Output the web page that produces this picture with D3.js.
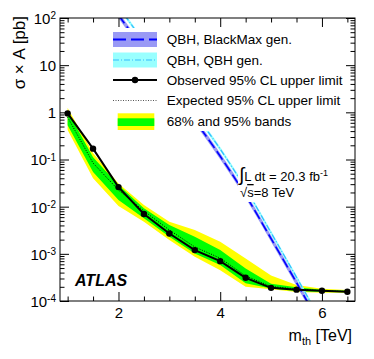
<!DOCTYPE html>
<html>
<head>
<meta charset="utf-8">
<script src="https://cdn.jsdelivr.net/npm/d3@7"></script>
<style>
  body { margin: 0; background: #fff; }
  text { font-family: "Liberation Sans", Arial, sans-serif; fill: #000; }
</style>
</head>
<body>
<div id="chart"></div>
<script>
// threshold masses (TeV) for the limit points
const massPoints = [1, 1.5, 2, 2.5, 3, 3.5, 4, 4.5, 5, 5.5, 6, 6.5];
const observed = [0.95, 0.17, 0.026, 0.0070, 0.0027, 0.0012, 0.00070, 0.00031, 0.00019, 0.000174, 0.000165, 0.000157];
const expected = [0.79, 0.084, 0.0225, 0.0081, 0.0032, 0.0014, 0.00081, 0.00034, 0.000203, 0.00018, 0.000165, 0.000159];
const band95High = [1.23, 0.137, 0.031, 0.0108, 0.0048, 0.0032, 0.0018, 0.0008, 0.000347, 0.000218, 0.000182, 0.000171];
const band68High = [1.06, 0.112, 0.0287, 0.0093, 0.0041, 0.0023, 0.0012, 0.00049, 0.000233, 0.000195, 0.000173, 0.000165];
const band68Low = [0.535, 0.054, 0.0138, 0.0057, 0.0023, 0.00102, 0.00058, 0.000237, 0.000184, 0.000163, 0.000155, 0.000154];
const band95Low = [0.42, 0.040, 0.0103, 0.0048, 0.00196, 0.00087, 0.00045, 0.0002, 0.000177, 0.000155, 0.00015, 0.00015];

// theory predictions
const theoryMass = [2, 2.5, 3, 3.5, 4, 4.5, 5, 5.5, 6];
const blackMax = [115, 21, 3.9, 0.68, 0.117, 0.0174, 0.0021, 2.45e-4, 2.75e-5];
const blackMaxHigh = [133, 24.4, 4.5, 0.79, 0.136, 0.0202, 0.00244, 2.84e-4, 3.2e-5];
const blackMaxLow = [99, 18.1, 3.36, 0.586, 0.101, 0.015, 0.00181, 2.11e-4, 2.37e-5];
const qbhGen = [174, 31, 5.5, 0.95, 0.166, 0.024, 0.0028, 3.2e-4, 3.5e-5];
const qbhHigh = [191, 34, 6.05, 1.05, 0.183, 0.0264, 0.0031, 3.5e-4, 3.85e-5];
const qbhLow = [158, 28.2, 5.0, 0.86, 0.151, 0.0218, 0.00255, 2.9e-4, 3.2e-5];

const xMajorTicks = [2, 4, 6];
const xMinorTicks = [1, 1.5, 2.5, 3, 3.5, 4.5, 5, 5.5, 6.5];
const yMajorTicks = [1e-4, 1e-3, 1e-2, 1e-1, 1, 10, 100];
const yTickLabels = [['10', '-4'], ['10', '-3'], ['10', '-2'], ['10', '-1'], ['1', ''], ['10', ''], ['10', '2']];
const legendLabels = ['QBH, BlackMax gen.', 'QBH, QBH gen.', 'Observed 95% CL upper limit',
  'Expected 95% CL upper limit', '68% and 95% bands'];

const width = 374;
const height = 359;
const plotLeft = 60, plotRight = 355, plotTop = 18, plotBottom = 301;
const majorLen = 9, minorLen = 4.5;

let svg = d3.select('#chart').append('svg')
  .attr('width', width)
  .attr('height', height)

let x = d3.scaleLinear().domain([0.85, 6.65]).range([plotLeft, plotRight]);
let y = d3.scaleLog().domain([1e-4, 1e2]).range([plotBottom, plotTop]);

svg.append('clipPath').attr('id', 'plot-clip')
  .append('rect')
    .attr('x', plotLeft).attr('y', plotTop)
    .attr('width', plotRight - plotLeft).attr('height', plotBottom - plotTop)

let plot = svg.append('g').attr('clip-path', 'url(#plot-clip)');

let rows = massPoints.map((m, i) => ({
  m, obs: observed[i], exp: expected[i],
  lo95: band95Low[i], lo68: band68Low[i], hi68: band68High[i], hi95: band95High[i]
}));
let theoryRows = theoryMass.map((m, i) => ({
  m, bm: blackMax[i], bmLo: blackMaxLow[i], bmHi: blackMaxHigh[i],
  qbh: qbhGen[i], qbhLo: qbhLow[i], qbhHi: qbhHigh[i]
}));

let area = (lo, hi) => d3.area().x(d => x(d.m)).y0(d => y(d[lo])).y1(d => y(d[hi]));
let line = key => d3.line().x(d => x(d.m)).y(d => y(d[key]));
let smooth = key => d3.line().curve(d3.curveMonotoneX).x(d => x(d.m)).y(d => y(d[key]));
let smoothArea = (lo, hi) => d3.area().curve(d3.curveMonotoneX)
  .x(d => x(d.m)).y0(d => y(d[lo])).y1(d => y(d[hi]));

plot.append('path').datum(rows).attr('d', area('lo95', 'hi95')).attr('fill', '#ffff00')
plot.append('path').datum(rows).attr('d', area('lo68', 'hi68')).attr('fill', '#00ff00')

// theory bands and lines
plot.append('path').datum(theoryRows).attr('d', smoothArea('qbhLo', 'qbhHi')).attr('fill', '#99ffff')
plot.append('path').datum(theoryRows).attr('d', smoothArea('bmLo', 'bmHi')).attr('fill', '#9999f5')
plot.append('path').datum(theoryRows).attr('d', smooth('qbh'))
  .attr('fill', 'none').attr('stroke', '#33bbff').attr('stroke-width', 1.2)
  .attr('stroke-dasharray', '6,2,1,2')
plot.append('path').datum(theoryRows).attr('d', smooth('bm'))
  .attr('fill', 'none').attr('stroke', '#0000ff').attr('stroke-width', 1.6)
  .attr('stroke-dasharray', '10,4')

plot.append('path').datum(rows).attr('d', line('exp'))
  .attr('fill', 'none').attr('stroke', '#000').attr('stroke-width', 1)
  .attr('stroke-dasharray', '1,1.5')
plot.append('path').datum(rows).attr('d', line('obs'))
  .attr('fill', 'none').attr('stroke', '#000').attr('stroke-width', 2)
plot.selectAll('circle.obs').data(rows).enter().append('circle')
  .classed('obs', true)
  .attr('cx', d => x(d.m)).attr('cy', d => y(d.obs)).attr('r', 3.2)

// luminosity label on a white pad
svg.append('rect').attr('x', 238).attr('y', 162).attr('width', 92).attr('height', 40).attr('fill', '#fff')
let lumi = svg.append('text').attr('x', 239).attr('y', 181).style('font-size', '13px')
lumi.append('tspan').style('font-size', '19px').text('∫')
lumi.append('tspan').text('L dt = 20.3 fb')
lumi.append('tspan').attr('dy', -5).style('font-size', '9px').text('-1')
let sqrtS = svg.append('text').attr('x', 240).attr('y', 197).style('font-size', '13px')
sqrtS.append('tspan').text('√')
sqrtS.append('tspan').style('text-decoration', 'overline').text('s')
sqrtS.append('tspan').text('=8 TeV')

// legend
const legX = 113, legW = 44, legTextX = 166.7;
const legY = [39.5, 60, 80, 100.5, 121.5];
let legend = svg.append('g');
legend.append('rect').attr('x', 110).attr('y', 28).attr('width', 236).attr('height', 103).attr('fill', '#fff')
legend.append('rect').attr('x', legX).attr('y', legY[0] - 7.5).attr('width', legW).attr('height', 15).attr('fill', '#9999f5')
legend.append('line').attr('x1', legX).attr('x2', legX + legW).attr('y1', legY[0]).attr('y2', legY[0])
  .attr('stroke', '#0000ff').attr('stroke-width', 2).attr('stroke-dasharray', '13,5')
legend.append('rect').attr('x', legX).attr('y', legY[1] - 7.5).attr('width', legW).attr('height', 15).attr('fill', '#99ffff')
legend.append('line').attr('x1', legX).attr('x2', legX + legW).attr('y1', legY[1]).attr('y2', legY[1])
  .attr('stroke', '#33bbff').attr('stroke-width', 1.2).attr('stroke-dasharray', '6,2,1,2')
legend.append('line').attr('x1', legX).attr('x2', legX + legW).attr('y1', legY[2]).attr('y2', legY[2])
  .attr('stroke', '#000').attr('stroke-width', 2)
legend.append('circle').attr('cx', legX + legW / 2).attr('cy', legY[2]).attr('r', 3.2)
legend.append('line').attr('x1', legX).attr('x2', legX + legW).attr('y1', legY[3]).attr('y2', legY[3])
  .attr('stroke', '#555').attr('stroke-width', 1).attr('stroke-dasharray', '1,1.5')
legend.append('rect').attr('x', 117.7).attr('y', legY[4] - 8.2).attr('width', 36.6).attr('height', 16.7).attr('fill', '#ffff00')
legend.append('rect').attr('x', 117.7).attr('y', legY[4] - 3.2).attr('width', 36.6).attr('height', 7.7).attr('fill', '#00ff00')
legend.selectAll('text.leg').data(legendLabels).enter().append('text')
  .classed('leg', true)
  .attr('x', legTextX)
  .attr('y', (d, i) => legY[i])
  .attr('dy', '0.36em')
  .style('font-size', '13.5px')
  .text(d => d)

svg.append('text')
  .attr('x', 75).attr('y', 286)
  .style('font-size', '16px').style('font-weight', 'bold').style('font-style', 'italic')
  .text('ATLAS')

// axes, ticks point inwards on all four sides
let yMinorTicks = [];
yMajorTicks.slice(0, -1).forEach(v => d3.range(2, 10).forEach(k => yMinorTicks.push(v * k)));

let addAxis = (axis, transform) => {
  let g = svg.append('g').attr('transform', transform).call(axis);
  g.select('.domain').remove();
  g.selectAll('line').attr('stroke', '#000');
  return g;
}

let xBottom = addAxis(d3.axisBottom(x).tickValues(xMajorTicks).tickSizeInner(-majorLen).tickSizeOuter(0)
  .tickPadding(6).tickFormat(d3.format('d')), `translate(0,${plotBottom})`);
xBottom.selectAll('text').style('font-size', '15px').attr('font-family', null)
addAxis(d3.axisBottom(x).tickValues(xMinorTicks).tickSizeInner(-minorLen).tickSizeOuter(0).tickFormat(''), `translate(0,${plotBottom})`);
addAxis(d3.axisTop(x).tickValues(xMajorTicks).tickSizeInner(-majorLen).tickSizeOuter(0).tickFormat(''), `translate(0,${plotTop})`);
addAxis(d3.axisTop(x).tickValues(xMinorTicks).tickSizeInner(-minorLen).tickSizeOuter(0).tickFormat(''), `translate(0,${plotTop})`);

let yLeft = addAxis(d3.axisLeft(y).tickValues(yMajorTicks).tickSizeInner(-majorLen).tickSizeOuter(0)
  .tickPadding(4).tickFormat(''), `translate(${plotLeft},0)`);
yLeft.selectAll('.tick text').each(function (d, i) {
  let t = d3.select(this).attr('font-family', null).style('font-size', '15px').attr('dy', '0.36em');
  let [base, exp] = yTickLabels[i];
  t.append('tspan').text(base);
  if (exp) t.append('tspan').attr('dy', '-0.45em').style('font-size', '10px').text(exp);
})
addAxis(d3.axisLeft(y).tickValues(yMinorTicks).tickSizeInner(-minorLen).tickSizeOuter(0).tickFormat(''), `translate(${plotLeft},0)`);
addAxis(d3.axisRight(y).tickValues(yMajorTicks).tickSizeInner(-majorLen).tickSizeOuter(0).tickFormat(''), `translate(${plotRight},0)`);
addAxis(d3.axisRight(y).tickValues(yMinorTicks).tickSizeInner(-minorLen).tickSizeOuter(0).tickFormat(''), `translate(${plotRight},0)`);

svg.append('rect')
  .attr('x', plotLeft).attr('y', plotTop)
  .attr('width', plotRight - plotLeft).attr('height', plotBottom - plotTop)
  .attr('fill', 'none').attr('stroke', '#000').attr('stroke-width', 1)

// axis titles
let xTitle = svg.append('text')
  .attr('x', 352).attr('y', 341)
  .attr('text-anchor', 'end')
  .style('font-size', '16px')
xTitle.append('tspan').text('m')
xTitle.append('tspan').attr('dy', 4).style('font-size', '11px').text('th')
xTitle.append('tspan').attr('dy', -4).text(' [TeV]')

svg.append('text')
  .attr('transform', 'rotate(-90)')
  .attr('x', -16).attr('y', 25)
  .attr('text-anchor', 'end')
  .style('font-size', '17px')
  .text('σ × A [pb]')
</script>
</body>
</html>
